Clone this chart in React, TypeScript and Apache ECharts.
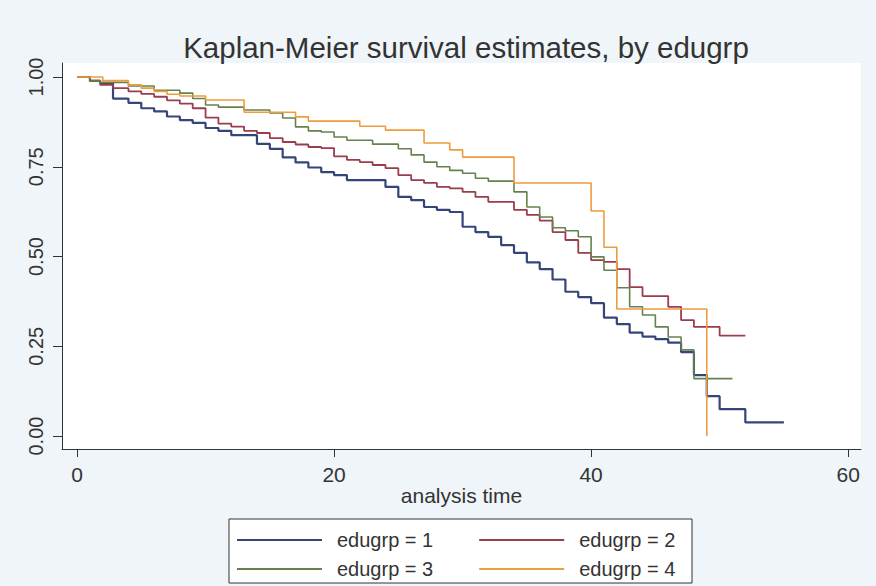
import React, { useEffect, useRef } from "react";
import * as echarts from "echarts";

const TITLE = "Kaplan-Meier survival estimates, by edugrp";
const X_NAME = "analysis time";
const GROUP_NAMES = ["edugrp = 1", "edugrp = 2", "edugrp = 3", "edugrp = 4"];
const X_TICKS = [0, 20, 40, 60];
const Y_TICKS = [0, 0.25, 0.5, 0.75, 1];

const timesG1 = [0, 1, 1.8, 2.8, 4, 5, 6, 7, 8, 9, 10, 11, 12, 14, 15, 16, 17, 18, 19, 20, 21, 24, 25, 26, 27, 28, 29, 30, 31, 32, 33, 34, 35, 36, 37, 38, 39, 40, 41, 42, 43, 44, 45, 46, 47, 48, 49, 50, 52, 55];
const survG1 = [1, 0.989, 0.983, 0.94, 0.928, 0.913, 0.904, 0.89, 0.88, 0.872, 0.858, 0.85, 0.838, 0.814, 0.8, 0.776, 0.762, 0.748, 0.735, 0.727, 0.713, 0.694, 0.666, 0.657, 0.638, 0.63, 0.624, 0.583, 0.568, 0.555, 0.532, 0.51, 0.484, 0.465, 0.436, 0.402, 0.387, 0.37, 0.33, 0.312, 0.288, 0.277, 0.27, 0.26, 0.234, 0.17, 0.111, 0.075, 0.038, 0.038];

const timesG2 = [0, 1, 1.8, 2.8, 4, 5, 6, 7, 8, 9, 10, 11, 12, 13, 14, 15, 16, 17, 18, 19, 20, 21, 22, 23, 24, 25, 26, 27, 28, 29, 30, 31, 32, 34, 35, 36, 37, 38, 39, 40, 41, 42, 43, 44, 46, 47, 48, 50, 52];
const survG2 = [1, 0.99, 0.978, 0.969, 0.96, 0.953, 0.945, 0.935, 0.926, 0.913, 0.887, 0.87, 0.862, 0.85, 0.844, 0.83, 0.819, 0.812, 0.805, 0.802, 0.779, 0.769, 0.763, 0.755, 0.746, 0.727, 0.713, 0.705, 0.694, 0.69, 0.68, 0.666, 0.652, 0.63, 0.616, 0.6, 0.568, 0.546, 0.51, 0.49, 0.485, 0.465, 0.415, 0.39, 0.36, 0.323, 0.304, 0.28, 0.28];

const timesG3 = [0, 1, 1.8, 4, 6, 8, 9, 10, 11, 13, 15, 16, 17, 18, 19, 20, 21, 23, 25, 26, 27, 28, 29, 30, 31, 32, 34, 35, 36, 37, 38, 39, 40, 41, 42, 43, 44, 45, 46, 47, 48, 51];
const survG3 = [1, 0.989, 0.985, 0.975, 0.963, 0.955, 0.94, 0.922, 0.916, 0.908, 0.9, 0.886, 0.861, 0.85, 0.847, 0.833, 0.824, 0.813, 0.8, 0.783, 0.763, 0.75, 0.74, 0.732, 0.718, 0.71, 0.68, 0.638, 0.61, 0.58, 0.572, 0.555, 0.499, 0.462, 0.413, 0.36, 0.337, 0.304, 0.276, 0.24, 0.16, 0.16];

const timesG4 = [0, 2, 4, 5, 6, 7, 8, 10, 13, 17, 18, 22, 24, 27, 29, 30, 34, 40, 41, 42, 49];
const survG4 = [1, 0.99, 0.978, 0.969, 0.96, 0.952, 0.947, 0.936, 0.902, 0.889, 0.877, 0.863, 0.852, 0.816, 0.797, 0.777, 0.705, 0.627, 0.526, 0.354, 0];

const FONT = "'Liberation Sans', Arial, Helvetica, sans-serif";
const TXT = "#333333";

export default function App() {
  const ref = useRef<HTMLDivElement>(null);

  useEffect(() => {
    if (!ref.current) return;
    const chart = echarts.init(ref.current, null, { renderer: "svg" });
    const pairs = (t: number[], s: number[]) => t.map((v, i) => [v, s[i]]);
    const groups = [
      { t: timesG1, s: survG1, color: "#35457a", width: 2.2 },
      { t: timesG2, s: survG2, color: "#9b3d4c", width: 1.8 },
      { t: timesG3, s: survG3, color: "#66824c", width: 1.6 },
      { t: timesG4, s: survG4, color: "#ee9c3c", width: 1.6 },
    ];
    const axisLineStyle = { color: "#333333", width: 1 };
    const legendCommon = {
      orient: "horizontal",
      left: 237,
      padding: 0,
      itemWidth: 85,
      itemHeight: 14,
      itemGap: 46,
      icon: "path://M0,6 L85,6 L85,8 L0,8 Z",
      textStyle: { fontFamily: FONT, fontSize: 20, color: TXT, padding: [0, 0, 0, 10] },
      selectedMode: false,
    };
    chart.setOption({
      animation: false,
      backgroundColor: "#eff5f8",
      title: {
        text: TITLE,
        left: 461,
        textAlign: "center",
        top: 27,
        textStyle: { fontFamily: FONT, fontSize: 29.5, fontWeight: "normal", color: TXT },
      },
      grid: {
        left: 62,
        right: 15,
        top: 63,
        bottom: 137,
        show: true,
        backgroundColor: "#ffffff",
        borderWidth: 0,
      },
      xAxis: {
        type: "value",
        min: -1.17,
        max: 61,
        name: X_NAME,
        nameLocation: "middle",
        nameGap: 36,
        nameMoveOverlap: false,
        nameTextStyle: { fontFamily: FONT, fontSize: 21, color: TXT },
        axisLine: { show: true, onZero: false, lineStyle: axisLineStyle },
        axisTick: { show: true, length: 8, customValues: X_TICKS, lineStyle: axisLineStyle },
        axisLabel: { customValues: X_TICKS, margin: 15, fontFamily: FONT, fontSize: 21, color: TXT },
        splitLine: { show: false },
      },
      yAxis: {
        type: "value",
        min: -0.036,
        max: 1.039,
        axisLine: { show: true, onZero: false, lineStyle: axisLineStyle },
        axisTick: { show: true, length: 9, customValues: Y_TICKS, lineStyle: axisLineStyle },
        axisLabel: {
          customValues: Y_TICKS,
          rotate: 90,
          margin: 16,
          fontFamily: FONT,
          fontSize: 20,
          color: TXT,
          formatter: (v: number) => v.toFixed(2),
        },
        splitLine: { show: false },
      },
      legend: [
        { ...legendCommon, top: 530, data: [GROUP_NAMES[0], GROUP_NAMES[1]] },
        { ...legendCommon, top: 559, data: [GROUP_NAMES[2], GROUP_NAMES[3]] },
      ],
      graphic: [
        {
          type: "rect",
          z: 0,
          shape: { x: 229, y: 519, width: 463, height: 64 },
          style: { fill: "#ffffff", stroke: "#333333", lineWidth: 1 },
        },
      ],
      series: groups.map((g, i) => ({
        name: GROUP_NAMES[i],
        type: "line",
        step: "end",
        symbol: "none",
        data: pairs(g.t, g.s),
        lineStyle: { color: g.color, width: g.width },
        itemStyle: { color: g.color },
        emphasis: { disabled: true },
      })),
    });
    return () => chart.dispose();
  }, []);

  return (
    <div
      ref={ref}
      style={{ position: "fixed", left: 0, top: 0, width: 876, height: 586 }}
    />
  );
}
